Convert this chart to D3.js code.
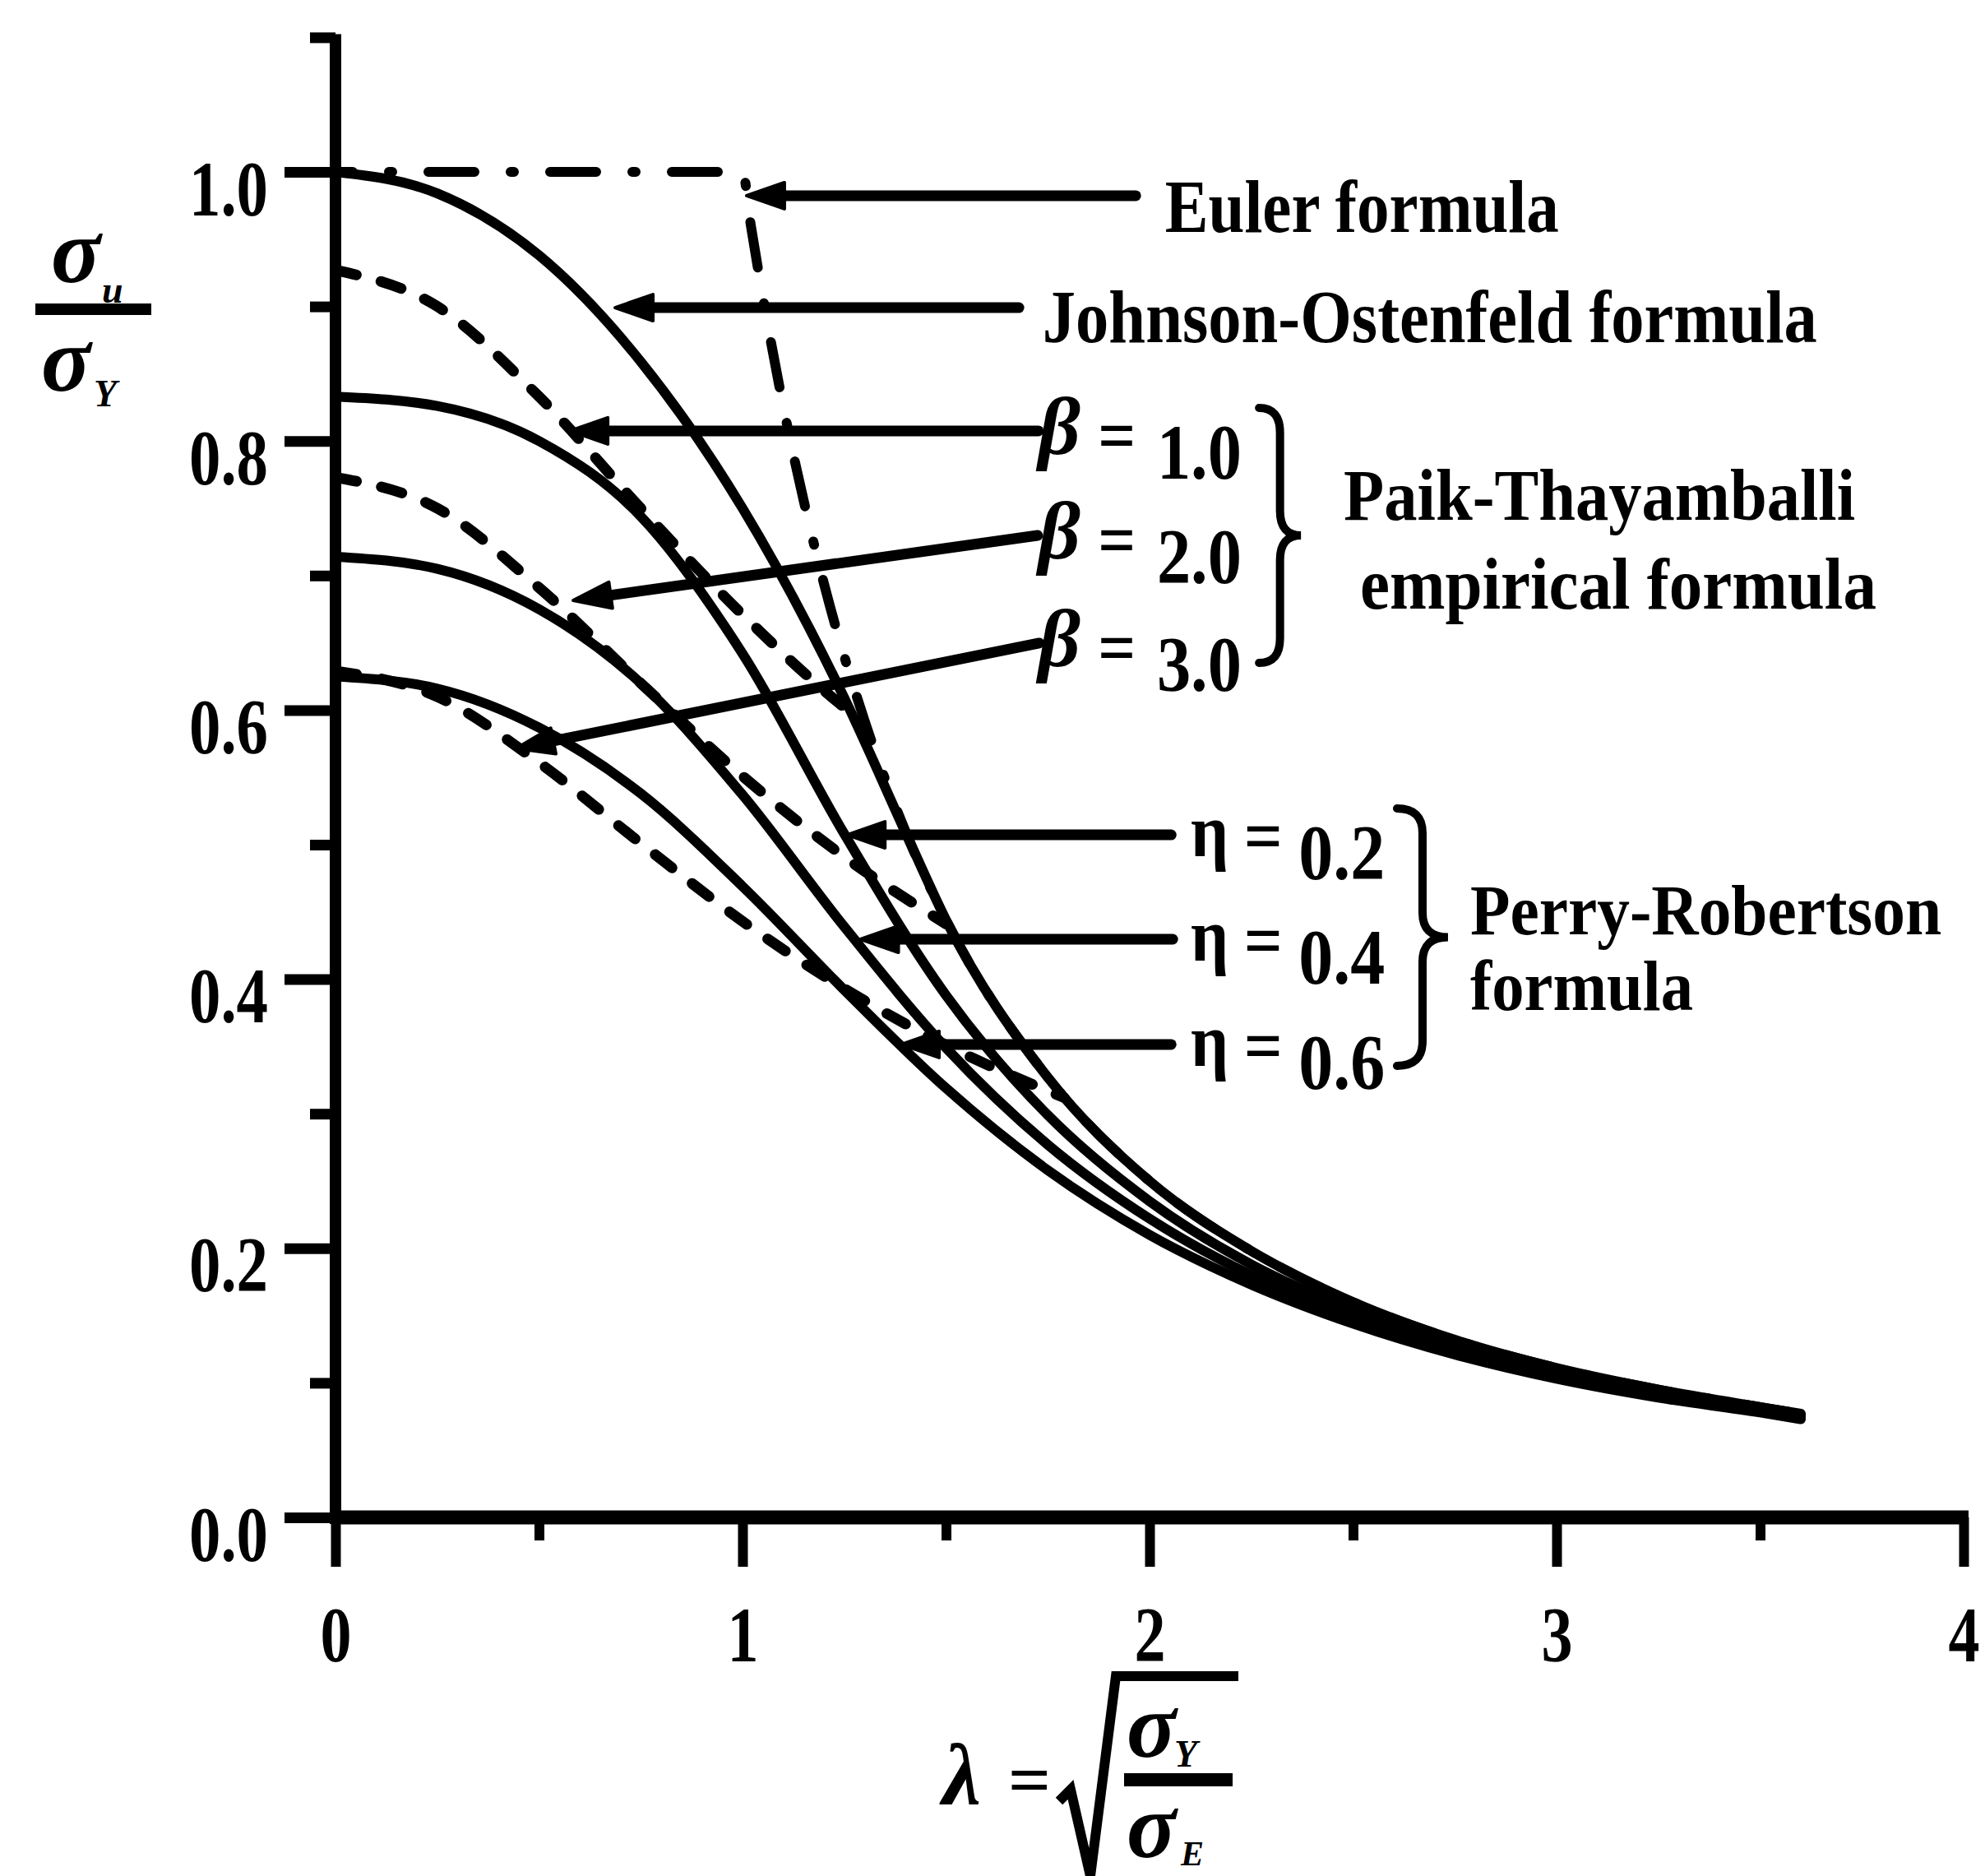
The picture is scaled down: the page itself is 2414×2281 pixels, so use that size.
<!DOCTYPE html>
<html>
<head>
<meta charset="utf-8">
<script src="https://cdn.jsdelivr.net/npm/d3@7"></script>
<style>
  html, body { margin: 0; padding: 0; background: #fff; }
  svg { display: block; }
  text { font-family: "Liberation Serif", "Times New Roman", serif; font-weight: bold; fill: #000; }
</style>
</head>
<body>
<svg id="chart" width="2414" height="2281"></svg>
<script>
// ---- Column strength curves: normalized strength σu/σY against slenderness λ ----

// Euler elastic buckling (capped at yield)
const lambdaEuler = [0, 0.5, 1.0, 1.02, 1.05, 1.1, 1.15, 1.2, 1.3, 1.414, 1.5, 1.75, 2.0, 2.25, 2.5, 2.75, 3.0, 3.25, 3.5, 3.6];
const eulerStrength = [1.0, 1.0, 1.0, 0.961, 0.907, 0.826, 0.756, 0.694, 0.592, 0.500, 0.444, 0.327, 0.250, 0.198, 0.160, 0.132, 0.111, 0.095, 0.082, 0.077];

// Johnson-Ostenfeld
const lambdaJohnson = [0, 0.25, 0.5, 0.75, 1.0, 1.25, 1.414, 1.5, 1.75, 2.0, 2.25, 2.5, 2.75, 3.0, 3.25, 3.5, 3.6];
const johnsonStrength = [1.000, 0.984, 0.938, 0.859, 0.750, 0.609, 0.500, 0.444, 0.327, 0.250, 0.198, 0.160, 0.132, 0.111, 0.095, 0.082, 0.077];

// Paik-Thayamballi empirical formula, β = 1.0, 2.0, 3.0
const lambdaBeta1 = [0, 0.25, 0.5, 0.75, 1.0, 1.25, 1.30];
const paikBeta1 = [0.927, 0.900, 0.833, 0.750, 0.671, 0.602, 0.590];
const lambdaBeta2 = [0, 0.25, 0.5, 0.75, 1.0, 1.25, 1.5];
const paikBeta2 = [0.773, 0.750, 0.691, 0.620, 0.551, 0.491, 0.441];
const lambdaBeta3 = [0, 0.25, 0.5, 0.75, 1.0, 1.25, 1.5, 1.75, 1.79];
const paikBeta3 = [0.629, 0.610, 0.561, 0.501, 0.443, 0.393, 0.351, 0.317, 0.312];

// Perry-Robertson formula, η = 0.2, 0.4, 0.6
const lambdaPerry = [0, 0.25, 0.5, 0.75, 1.0, 1.25, 1.5, 1.75, 2.0, 2.25, 2.5, 2.75, 3.0, 3.25, 3.5, 3.6];
const perryEta02 = [0.833, 0.826, 0.800, 0.744, 0.642, 0.508, 0.388, 0.299, 0.235, 0.188, 0.154, 0.128, 0.108, 0.093, 0.080, 0.076];
const perryEta04 = [0.714, 0.705, 0.675, 0.620, 0.537, 0.439, 0.349, 0.277, 0.222, 0.180, 0.149, 0.125, 0.106, 0.091, 0.079, 0.075];
const perryEta06 = [0.625, 0.616, 0.587, 0.538, 0.469, 0.392, 0.319, 0.258, 0.210, 0.173, 0.144, 0.121, 0.103, 0.089, 0.078, 0.073];

// Axis ticks
const xMajorTicks = [0, 1, 2, 3, 4];
const xMinorTicks = [0.5, 1.5, 2.5, 3.5];
const yMajorTicks = [0.0, 0.2, 0.4, 0.6, 0.8, 1.0];
const yMinorTicks = [0.1, 0.3, 0.5, 0.7, 0.9, 1.1];
const yTickLabels = ["0.0", "0.2", "0.4", "0.6", "0.8", "1.0"];
const xTickLabels = ["0", "1", "2", "3", "4"];

// Curve table
const series = [
  { xs: lambdaJohnson, ys: johnsonStrength, kind: "solid" },
  { xs: lambdaPerry, ys: perryEta02, kind: "solid" },
  { xs: lambdaPerry, ys: perryEta04, kind: "solid" },
  { xs: lambdaPerry, ys: perryEta06, kind: "solid" },
  { xs: lambdaBeta1, ys: paikBeta1, kind: "dashed" },
  { xs: lambdaBeta2, ys: paikBeta2, kind: "dashed" },
  { xs: lambdaBeta3, ys: paikBeta3, kind: "dashed" },
  { xs: lambdaEuler, ys: eulerStrength, kind: "dashdot" }
];

const strokeStyles = {
  solid:   { width: 12, dash: null, offset: 0, cap: "round" },
  dashed:  { width: 13, dash: "26,31", offset: 0, cap: "round" },
  dashdot: { width: 12, dash: "56,44,4,44", offset: 35, cap: "round" }
};

// ---- Layout ----
const svg = d3.select("#chart");
svg.append("rect").attr("width", 2414).attr("height", 2281).attr("fill", "#fff");

const x = d3.scaleLinear().domain([0, 4]).range([408, 2388]);
const y = d3.scaleLinear().domain([0, 1]).range([1845, 209]);

// ---- Axes ----
const gY = svg.append("g").attr("transform", `translate(${x(0)},0)`);
gY.call(d3.axisLeft(y).tickValues(yMajorTicks).tickSize(62).tickPadding(20)
  .tickFormat((d, i) => yTickLabels[i]));
gY.append("g").call(d3.axisLeft(y).tickValues(yMinorTicks).tickSize(31).tickFormat(""));
gY.selectAll(".domain").remove();
gY.selectAll("line").attr("stroke", "#000").attr("stroke-width", 13);
gY.selectAll("text")
  .attr("font-size", 96).attr("dy", 0).attr("y", 52)
  .attr("textLength", 96).attr("lengthAdjust", "spacingAndGlyphs");
gY.append("line").attr("x1", 0).attr("x2", 0).attr("y1", y(1.1) - 4).attr("y2", y(0) + 8)
  .attr("stroke", "#000").attr("stroke-width", 14);

const gX = svg.append("g").attr("transform", `translate(0,${y(0)})`);
gX.call(d3.axisBottom(x).tickValues(xMajorTicks).tickSize(60).tickPadding(0)
  .tickFormat((d, i) => xTickLabels[i]));
gX.append("g").call(d3.axisBottom(x).tickValues(xMinorTicks).tickSize(28).tickFormat(""));
gX.selectAll(".domain").remove();
gX.selectAll("line").attr("stroke", "#000").attr("stroke-width", 12);
gX.selectAll("text")
  .attr("font-size", 96).attr("dy", 0).attr("y", 175)
  .attr("textLength", 38).attr("lengthAdjust", "spacingAndGlyphs");
gX.append("line").attr("x1", x(0) - 4).attr("x2", x(4) + 6).attr("y1", 0).attr("y2", 0)
  .attr("stroke", "#000").attr("stroke-width", 17);

// ---- Curves ----
const gCurves = svg.append("g").attr("fill", "none").attr("stroke", "#000");
series.forEach(s => {
  const pts = s.xs.map((lx, i) => [lx, s.ys[i]]);
  const st = strokeStyles[s.kind];
  const path = d3.line().x(d => x(d[0])).y(d => y(d[1])).curve(d3.curveMonotoneX)(pts);
  const p = gCurves.append("path").attr("d", path)
    .attr("stroke-width", st.width).attr("stroke-linecap", st.cap).attr("stroke-linejoin", "round");
  if (st.dash) p.attr("stroke-dasharray", st.dash).attr("stroke-dashoffset", st.offset);
});

// ---- Leader arrows (from label end to the curve) ----
const leaders = [
  { from: [1.966, 0.9823], to: [1.010, 0.9823] },
  { from: [1.679, 0.8991], to: [0.687, 0.8991] },
  { from: [1.727, 0.8075], to: [0.576, 0.8075] },
  { from: [1.725, 0.7298], to: [0.584, 0.6815] },
  { from: [1.729, 0.6498], to: [0.444, 0.5715] },
  { from: [2.053, 0.5073], to: [1.257, 0.5073] },
  { from: [2.057, 0.4297], to: [1.290, 0.4297] },
  { from: [2.053, 0.3515], to: [1.390, 0.3515] }
];
const gArrows = svg.append("g");
leaders.forEach(a => {
  const x1 = x(a.from[0]), y1 = y(a.from[1]), x2 = x(a.to[0]), y2 = y(a.to[1]);
  const ang = Math.atan2(y2 - y1, x2 - x1);
  const len = 46, hw = 16;
  const bx = x2 - len * Math.cos(ang), by = y2 - len * Math.sin(ang);
  gArrows.append("line").attr("x1", x1).attr("y1", y1).attr("x2", bx + 10 * Math.cos(ang)).attr("y2", by + 10 * Math.sin(ang))
    .attr("stroke", "#000").attr("stroke-width", 13).attr("stroke-linecap", "round");
  const px = -Math.sin(ang), py = Math.cos(ang);
  gArrows.append("path")
    .attr("d", `M${x2},${y2} L${bx + hw * px},${by + hw * py} L${bx - hw * px},${by - hw * py} Z`)
    .attr("fill", "#000").attr("stroke", "#000").attr("stroke-width", 4).attr("stroke-linejoin", "round");
});

// ---- Labels ----
const gLabels = svg.append("g");
const captions = [
  { text: "Euler formula", at: [2.038, 0.9554], len: 479, size: 90 },
  { text: "Johnson-Ostenfeld formula", at: [1.737, 0.8735], len: 942, size: 90 },
  { text: "Paik-Thayamballi", at: [2.477, 0.7414], len: 622, size: 88 },
  { text: "empirical formula", at: [2.517, 0.6754], len: 628, size: 88 },
  { text: "Perry-Robertson", at: [2.788, 0.4334], len: 573, size: 86 },
  { text: "formula", at: [2.788, 0.3770], len: 271, size: 86 }
];
captions.forEach(c => {
  gLabels.append("text").attr("x", x(c.at[0])).attr("y", y(c.at[1]))
    .attr("font-size", c.size).attr("textLength", c.len).attr("lengthAdjust", "spacingAndGlyphs")
    .text(c.text);
});

// parameter labels next to the leader ends
const betaValues = ["1.0", "2.0", "3.0"];
const betaLines = [0.8075, 0.7298, 0.6498];
betaValues.forEach((v, i) => {
  const ly = y(betaLines[i]);
  gLabels.append("text").attr("x", x(1.727)).attr("y", ly + 28)
    .attr("font-size", 100).attr("font-style", "italic").text("β");
  gLabels.append("text").attr("x", x(1.873)).attr("y", ly + 36)
    .attr("font-size", 90).attr("textLength", 46).attr("lengthAdjust", "spacingAndGlyphs").text("=");
  gLabels.append("text").attr("x", x(2.018)).attr("y", ly + 58)
    .attr("font-size", 96).attr("textLength", 103).attr("lengthAdjust", "spacingAndGlyphs").text(v);
});

const etaValues = ["0.2", "0.4", "0.6"];
const etaLines = [0.5073, 0.4297, 0.3515];
etaValues.forEach((v, i) => {
  const ly = y(etaLines[i]);
  gLabels.append("text").attr("x", x(2.101)).attr("y", ly + 26)
    .attr("font-size", 90).attr("textLength", 46).attr("lengthAdjust", "spacingAndGlyphs").text("η");
  gLabels.append("text").attr("x", x(2.232)).attr("y", ly + 32)
    .attr("font-size", 90).attr("textLength", 47).attr("lengthAdjust", "spacingAndGlyphs").text("=");
  gLabels.append("text").attr("x", x(2.366)).attr("y", ly + 54)
    .attr("font-size", 96).attr("textLength", 105).attr("lengthAdjust", "spacingAndGlyphs").text(v);
});

// curly braces grouping the parameter labels
function bracePath(x0, yTop, yBot, w) {
  const xm = x0 + w * 0.5, x1 = x0 + w, mid = (yTop + yBot) / 2, q = 30;
  return `M${x0},${yTop} Q${xm},${yTop} ${xm},${yTop + q} L${xm},${mid - q} Q${xm},${mid} ${x1},${mid}` +
         ` Q${xm},${mid} ${xm},${mid + q} L${xm},${yBot - q} Q${xm},${yBot} ${x0},${yBot}`;
}
const braces = [
  { lam: 2.269, top: 0.8246, bottom: 0.6351, w: 51 },
  { lam: 2.608, top: 0.5269, bottom: 0.3356, w: 62 }
];
braces.forEach(b => {
  gLabels.append("path").attr("d", bracePath(x(b.lam), y(b.top), y(b.bottom), b.w))
    .attr("fill", "none").attr("stroke", "#000").attr("stroke-width", 10).attr("stroke-linecap", "round");
});

// ---- Axis titles ----
// y: σu / σY
const gYT = svg.append("g");
gYT.append("text").attr("x", 62).attr("y", 343).attr("font-size", 112).attr("font-style", "italic").text("σ");
gYT.append("text").attr("x", 124).attr("y", 368).attr("font-size", 46).attr("font-style", "italic").text("u");
gYT.append("line").attr("x1", 43).attr("x2", 184).attr("y1", 376).attr("y2", 376).attr("stroke", "#000").attr("stroke-width", 14);
gYT.append("text").attr("x", 50).attr("y", 475).attr("font-size", 112).attr("font-style", "italic").text("σ");
gYT.append("text").attr("x", 114).attr("y", 494).attr("font-size", 46).attr("font-style", "italic").text("Y");

// x: λ = sqrt(σY / σE)
const gXT = svg.append("g");
gXT.append("text").attr("x", 1146).attr("y", 2193).attr("font-size", 106).attr("font-style", "italic").text("λ");
gXT.append("text").attr("x", 1226).attr("y", 2193).attr("font-size", 84).attr("textLength", 52).attr("lengthAdjust", "spacingAndGlyphs").text("=");
gXT.append("path").attr("d", "M1288,2190 L1302,2176 L1326,2281 L1357,2038 L1506,2038")
  .attr("fill", "none").attr("stroke", "#000").attr("stroke-width", 12).attr("stroke-linejoin", "miter");
gXT.append("text").attr("x", 1370).attr("y", 2136).attr("font-size", 112).attr("font-style", "italic").text("σ");
gXT.append("text").attr("x", 1428).attr("y", 2148).attr("font-size", 46).attr("font-style", "italic").text("Y");
gXT.append("line").attr("x1", 1367).attr("x2", 1499).attr("y1", 2164).attr("y2", 2164).attr("stroke", "#000").attr("stroke-width", 16);
gXT.append("text").attr("x", 1370).attr("y", 2258).attr("font-size", 112).attr("font-style", "italic").text("σ");
gXT.append("text").attr("x", 1436).attr("y", 2268).attr("font-size", 42).attr("font-style", "italic").text("E");
</script>
</body>
</html>
